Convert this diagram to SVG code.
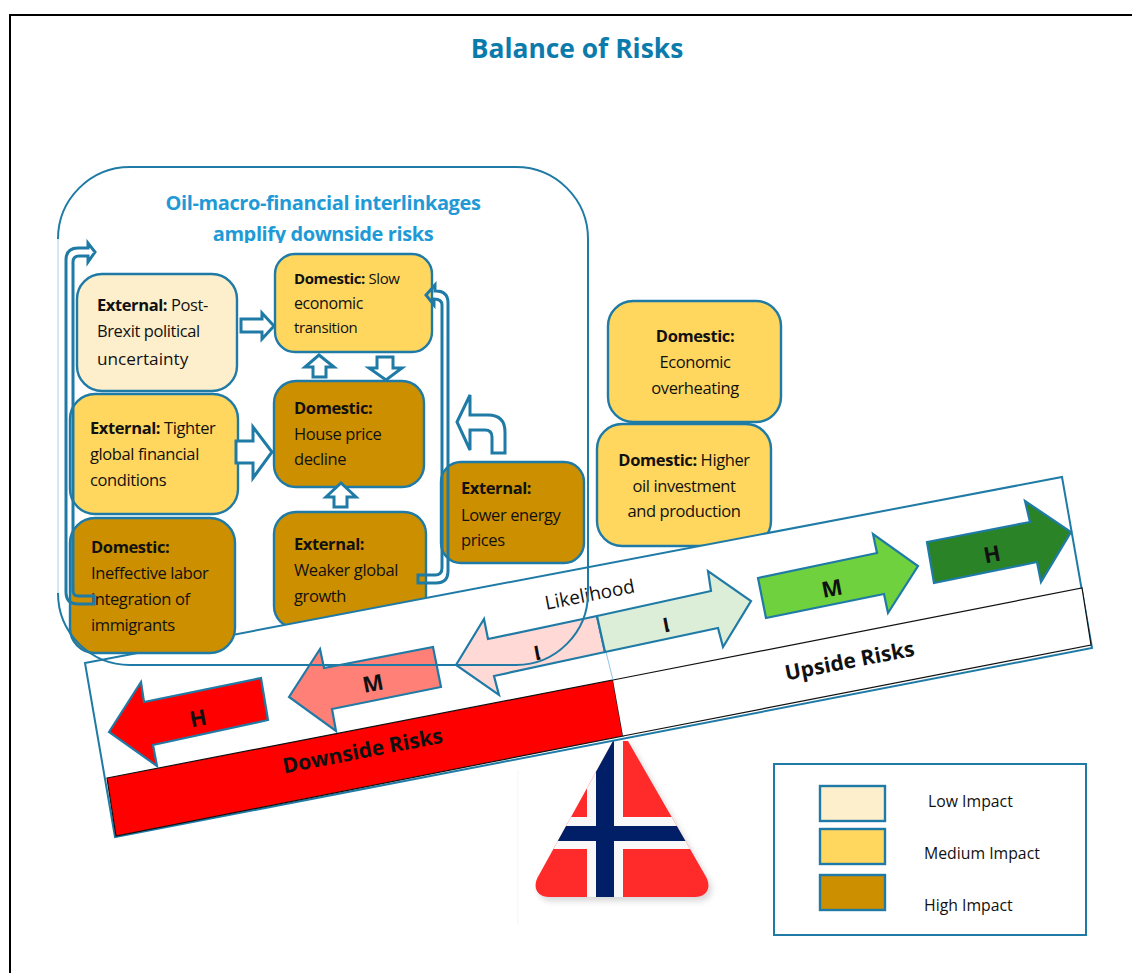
<svg xmlns="http://www.w3.org/2000/svg" width="1132" height="973" viewBox="0 0 1132 973">
<style>
text{font-family:"Open Sans","Noto Sans","Liberation Sans",sans-serif;fill:#111}
.t{font-size:16.5px;letter-spacing:-.4px}
.s{font-size:15px;letter-spacing:-.4px}
.b{font-weight:700}
.box{stroke:#1f7ba6;stroke-width:2.4}
.low{fill:#fdefcb}
.med{fill:#ffd75e}
.high{fill:#cc8f00}
.ha{fill:#fff;stroke:#1f7ba6;stroke-width:3;stroke-linejoin:miter}
.br{fill:none;stroke:#1f7ba6;stroke-width:3;stroke-linejoin:miter}
.pa{stroke:#1f7ba6;stroke-width:2.2}
.l{font-weight:700;font-size:22px;text-anchor:middle}
.bl{stroke:#111;stroke-width:1.2}
.sub{font-size:20px;letter-spacing:-.4px;fill:#1f9ad6;text-anchor:middle;font-weight:700}
.leg{font-size:15.8px}
</style>
<defs>
<clipPath id="clipSub"><rect x="100" y="215" width="450" height="28"/></clipPath>
<clipPath id="tri"><path d="M613 741H628L705 875C713 888 706 897 695 897H549C538 897 531 888 539 875Z"/></clipPath>
<clipPath id="stem"><rect x="-12" y="-20" width="12" height="21"/></clipPath>
<filter id="sh" x="-10%" y="-10%" width="125%" height="125%"><feDropShadow dx="3" dy="4" stdDeviation="3" flood-color="#000" flood-opacity=".16"/></filter>
</defs>
<rect width="1132" height="973" fill="#fff"/>
<path d="M10 973V15H1132" fill="none" stroke="#000" stroke-width="2"/>
<text x="577" y="58" text-anchor="middle" class="b" style="font-size:26.4px;fill:#0b7bac">Balance of Risks</text>

<g id="flag">
<path d="M518 770V925" stroke="#f5f5f5" fill="none"/>
<g filter="url(#sh)"><path d="M613 741H628L705 875C713 888 706 897 695 897H549C538 897 531 888 539 875Z" fill="#ff2a2a"/></g>
<g clip-path="url(#tri)">
<rect x="587" y="740" width="36" height="160" fill="#f8f8f8"/>
<rect x="530" y="817" width="190" height="32" fill="#f8f8f8"/>
<rect x="596" y="740" width="18" height="160" fill="#001f66"/>
<rect x="530" y="826" width="190" height="15" fill="#001f66"/>
</g>
</g>

<g id="node-brexit">
<rect class="box low" x="77" y="274" width="160" height="117" rx="25"/>
<text class="t" x="97" y="311"><tspan class="b">External:</tspan> Post-</text>
<text class="t" x="97" y="337">Brexit political</text>
<text x="97" y="365" style="font-size:17.2px">uncertainty</text>
</g>
<g id="node-tighter">
<rect class="box med" x="70" y="394" width="168" height="120" rx="25"/>
<text class="t" x="90" y="434"><tspan class="b">External:</tspan> Tighter</text>
<text class="t" x="90" y="460">global financial</text>
<text class="t" x="90" y="486">conditions</text>
</g>
<g id="node-slow">
<rect class="box med" x="275" y="254" width="157" height="98" rx="20"/>
<text class="s" x="294" y="284"><tspan class="b">Domestic:</tspan> Slow</text>
<text class="s" x="294" y="309" style="font-size:16px">economic</text>
<text class="s" x="294" y="333">transition</text>
</g>
<g id="node-house">
<rect class="box high" x="274" y="381" width="150" height="106" rx="22"/>
<text class="t b" x="294" y="414">Domestic:</text>
<text class="t" x="294" y="440">House price</text>
<text class="t" x="294" y="465">decline</text>
</g>
<g id="node-weaker">
<rect class="box high" x="274" y="512" width="152" height="116" rx="22"/>
<text class="t b" x="294" y="550">External:</text>
<text class="t" x="294" y="576">Weaker global</text>
<text class="t" x="294" y="602">growth</text>
</g>
<g id="node-energy">
<rect class="box high" x="441" y="462" width="143" height="101" rx="20"/>
<text class="t b" x="461" y="494">External:</text>
<text class="t" x="461" y="521">Lower energy</text>
<text class="t" x="461" y="546">prices</text>
</g>
<g id="node-overheating">
<rect class="box med" x="608" y="301" width="173" height="121" rx="25"/>
<text class="t b" x="695" y="342" text-anchor="middle">Domestic:</text>
<text class="t" x="695" y="368" text-anchor="middle">Economic</text>
<text class="t" x="695" y="394" text-anchor="middle">overheating</text>
</g>
<g id="node-oil">
<rect class="box med" x="597" y="424" width="174" height="122" rx="25"/>
<text class="t" x="684" y="466" text-anchor="middle"><tspan class="b">Domestic:</tspan> Higher</text>
<text class="t" x="684" y="492" text-anchor="middle">oil investment</text>
<text class="t" x="684" y="517" text-anchor="middle">and production</text>
</g>

<g id="balance-panel">
<path d="M85 663L1062 477L1092 648L115 837Z" fill="#fff" stroke="#1f7ba6" stroke-width="2"/>
<path d="M107 778L613 680L623 736L116 836Z" fill="#ff0000" class="bl"/>
<path d="M613 680L1082 588L1091 645L623 736" fill="#fff" class="bl"/>
<path d="M606 652L613 680" stroke="#8cc4ea" fill="none"/>
<text transform="translate(591 601) rotate(-11)" text-anchor="middle" style="font-size:19px">Likelihood</text>
<text class="b" transform="translate(364 758) rotate(-11)" text-anchor="middle" style="font-size:21px">Downside Risks</text>
<text class="b" transform="translate(851 668) rotate(-11)" text-anchor="middle" style="font-size:21px">Upside Risks</text>
</g>
<g id="risk-arrows">
<g id="arrow-down-high"><path class="pa" fill="#ff0000" d="M109 732L141 682L144 702L261 678L268 720L153 745L157 766Z"/><text class="l" transform="translate(199.5 726) rotate(-11)">H</text></g>
<g id="arrow-down-med"><path class="pa" fill="#ff8077" d="M289 697L320 649L324 668L433 647L441 687L332 709L336 731Z"/><text class="l" transform="translate(374.5 691) rotate(-11)">M</text></g>
<g id="arrow-down-low"><path class="pa" fill="#ffd9d6" d="M456 665L484 619L488 639L597 616L605 652L494 676L499 695Z"/><text class="l" clip-path="url(#stem)" style="font-size:20px" transform="translate(540.7 659.5) rotate(-11)">L</text></g>
<g id="arrow-up-low"><path class="pa" fill="#dcedd8" d="M597 616L711 591L708 571L751 601L723 647L718 628L605 652Z"/><text class="l" clip-path="url(#stem)" style="font-size:20px" transform="translate(669.7 631.5) rotate(-11)">L</text></g>
<g id="arrow-up-med"><path class="pa" fill="#6fd13d" d="M758 578L877 553L873 534L918 566L888 613L884 594L766 618Z"/><text class="l" transform="translate(833.5 596) rotate(-11)">M</text></g>
<g id="arrow-up-high"><path class="pa" fill="#2a8427" d="M927 542L1030 522L1025 501L1071 532L1041 582L1037 562L934 583Z"/><text class="l" transform="translate(993.5 562) rotate(-11)">H</text></g>
</g>

<g id="node-labor">
<rect class="box high" x="70" y="518" width="165" height="135" rx="25"/>
<text class="t b" x="91" y="553">Domestic:</text>
<text class="t" x="91" y="579">Ineffective labor</text>
<text class="t" x="91" y="605">integration of</text>
<text class="t" x="91" y="631">immigrants</text>
</g>

<g id="connectors">
<path class="ha" d="M241 319H262V313L274 326L262 339V332H241Z"/>
<path class="ha" d="M236 441H253V427L272 452L253 478V463H236Z"/>
<path class="ha" d="M319 355L334 367H326V377H313V367H305Z"/>
<path class="ha" d="M377 357H393V368H402L386 380L369 368H377Z"/>
<path class="ha" d="M341 483L356 497H347V507H334V497H326Z"/>
<path class="ha" d="M457 422L470 395V415H488Q505 415 505 432V453H492V437Q492 430 485 430H470V450Z"/>
<path class="br" d="M418 575H435Q442 575 442 568V305Q442 299 434 299L434 305L426 295L435 285V291H436Q448 291 448 303V571Q448 583 436 583H418Z"/>
<path class="br" d="M88 248H78Q66 248 66 260V592Q66 604 78 604H94V596H78Q73 596 73 590V262Q73 256 79 256H88V262L95 252L88 243Z"/>
</g>

<g id="group-interlinkages">
<path d="M58 239V593" fill="none" stroke="#d5e6f2" stroke-width="2"/>
<path d="M58 239A72 72 0 0 1 130 167H516A72 72 0 0 1 588 239V593A72 72 0 0 1 516 665H130A72 72 0 0 1 58 593" fill="none" stroke="#1f7ba6" stroke-width="2"/>
<text class="sub" x="323" y="210">Oil-macro-financial interlinkages</text>
<text class="sub" x="323" y="241" clip-path="url(#clipSub)">amplify downside risks</text>
</g>

<g id="legend">
<rect x="774" y="764" width="312" height="171" fill="#fff" stroke="#1f7ba6" stroke-width="2"/>
<rect class="box low" x="820" y="786" width="65" height="35"/>
<rect class="box med" x="820" y="829" width="65" height="35"/>
<rect class="box high" x="820" y="875" width="65" height="35"/>
<text class="leg" x="928" y="807">Low Impact</text>
<text class="leg" x="924" y="859">Medium Impact</text>
<text class="leg" x="924" y="911">High Impact</text>
</g>
</svg>
